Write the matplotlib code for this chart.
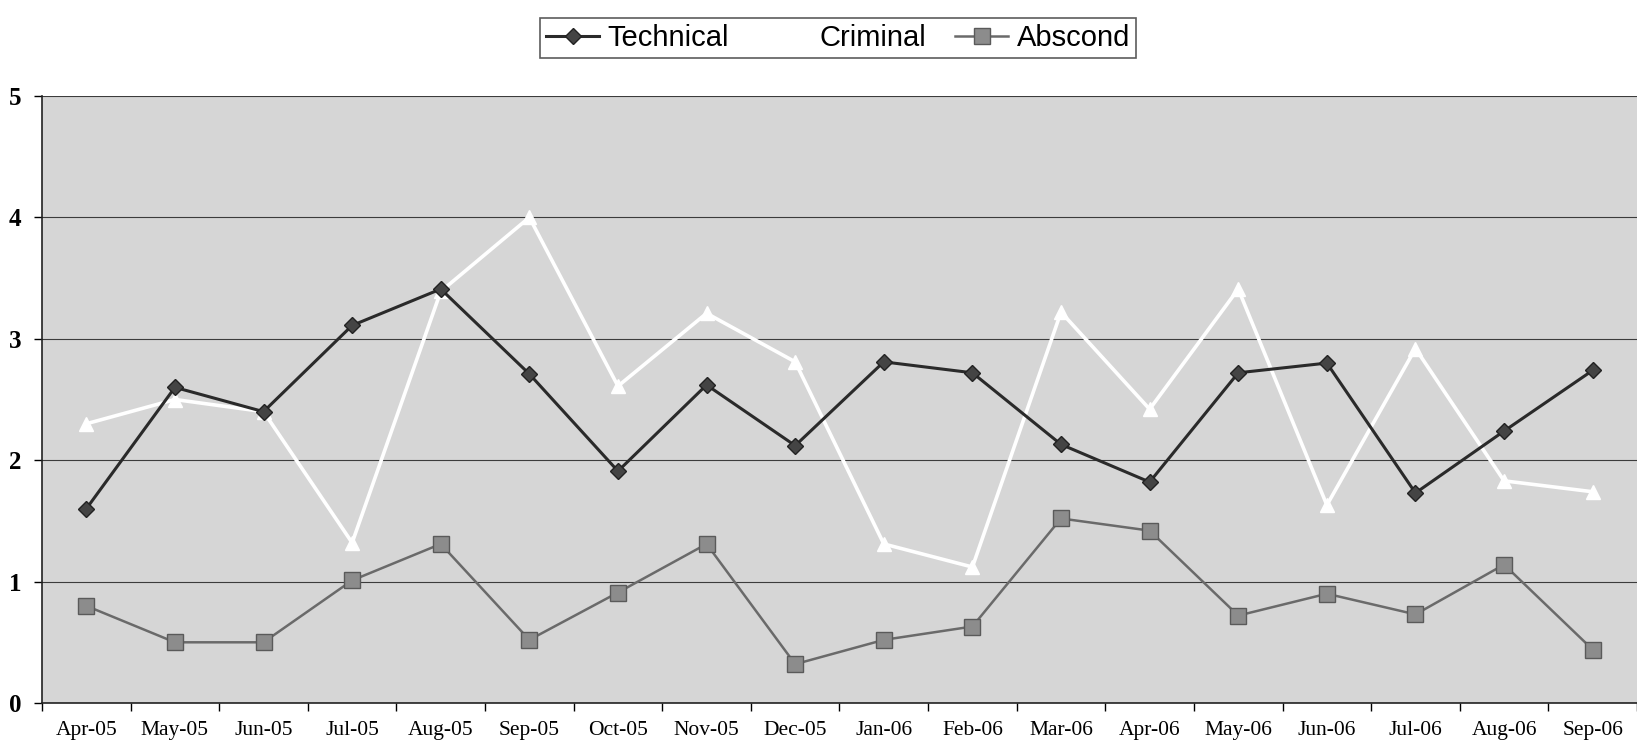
import matplotlib
matplotlib.use("Agg")
import matplotlib.pyplot as plt

months = ["Apr-05", "May-05", "Jun-05", "Jul-05", "Aug-05", "Sep-05", "Oct-05", "Nov-05", "Dec-05",
          "Jan-06", "Feb-06", "Mar-06", "Apr-06", "May-06", "Jun-06", "Jul-06", "Aug-06", "Sep-06"]
technical = [1.60, 2.60, 2.40, 3.11, 3.41, 2.71, 1.91, 2.62, 2.12, 2.81, 2.72, 2.13, 1.82, 2.72, 2.80, 1.73, 2.24, 2.74]
criminal = [2.30, 2.50, 2.40, 1.32, 3.39, 4.00, 2.61, 3.21, 2.81, 1.31, 1.12, 3.22, 2.42, 3.41, 1.63, 2.92, 1.83, 1.74]
abscond = [0.80, 0.50, 0.50, 1.01, 1.31, 0.52, 0.91, 1.31, 0.32, 0.52, 0.63, 1.52, 1.42, 0.72, 0.90, 0.73, 1.14, 0.44]
y_ticks = [0, 1, 2, 3, 4, 5]

fig = plt.figure(figsize=(16.37, 7.43), dpi=100)
ax = fig.add_axes([42 / 1637, 40 / 743, 1 - 42 / 1637, (703 - 96) / 743])
ax.set_facecolor("#d6d6d6")

x = list(range(len(months)))
ax.plot(x, technical, color="#2a2a2a", linewidth=2.2, marker="D", markersize=8,
        markerfacecolor="#444444", markeredgecolor="#222222", label="Technical", zorder=4)
ax.plot(x, criminal, color="white", linewidth=2.6, marker="^", markersize=10,
        markerfacecolor="white", markeredgecolor="white", label="Criminal", zorder=3)
ax.plot(x, abscond, color="#6a6a6a", linewidth=1.8, marker="s", markersize=11,
        markerfacecolor="#8c8c8c", markeredgecolor="#5a5a5a", label="Abscond", zorder=4)

ax.set_xlim(-0.5, len(months) - 0.5)
ax.set_ylim(0, 5)
ax.set_yticks(y_ticks)
ax.set_yticklabels([str(v) for v in y_ticks], family="Liberation Serif", fontsize=18, fontweight="bold")
ax.set_xticks(x)
ax.set_xticklabels(months, family="Liberation Serif", fontsize=15.5)
ax.set_xticks([i - 0.5 for i in range(len(months) + 1)], minor=True)
ax.tick_params(axis="x", which="major", length=0, pad=13)
ax.tick_params(axis="x", which="minor", length=6, width=1, direction="out")
ax.tick_params(axis="y", length=6, width=1, direction="out", pad=9)

ax.grid(axis="y", color="#3c3c3c", linewidth=0.8)
ax.set_axisbelow(True)
for side in ["top", "right"]:
    ax.spines[side].set_visible(False)
ax.spines["left"].set_color("#222222")
ax.spines["bottom"].set_color("#222222")
ax.spines["left"].set_linewidth(1.2)
ax.spines["bottom"].set_linewidth(1.2)

leg = fig.legend(loc="upper center", bbox_to_anchor=(0.512, 0.995), ncol=3, frameon=True,
                 fancybox=False, edgecolor="#333333", prop={"family": "Liberation Sans", "size": 21},
                 handlelength=1.8, handletextpad=0.3, columnspacing=1.0, borderpad=0.2)
leg.get_frame().set_linewidth(1.2)

fig.savefig("out.png", dpi=100)
